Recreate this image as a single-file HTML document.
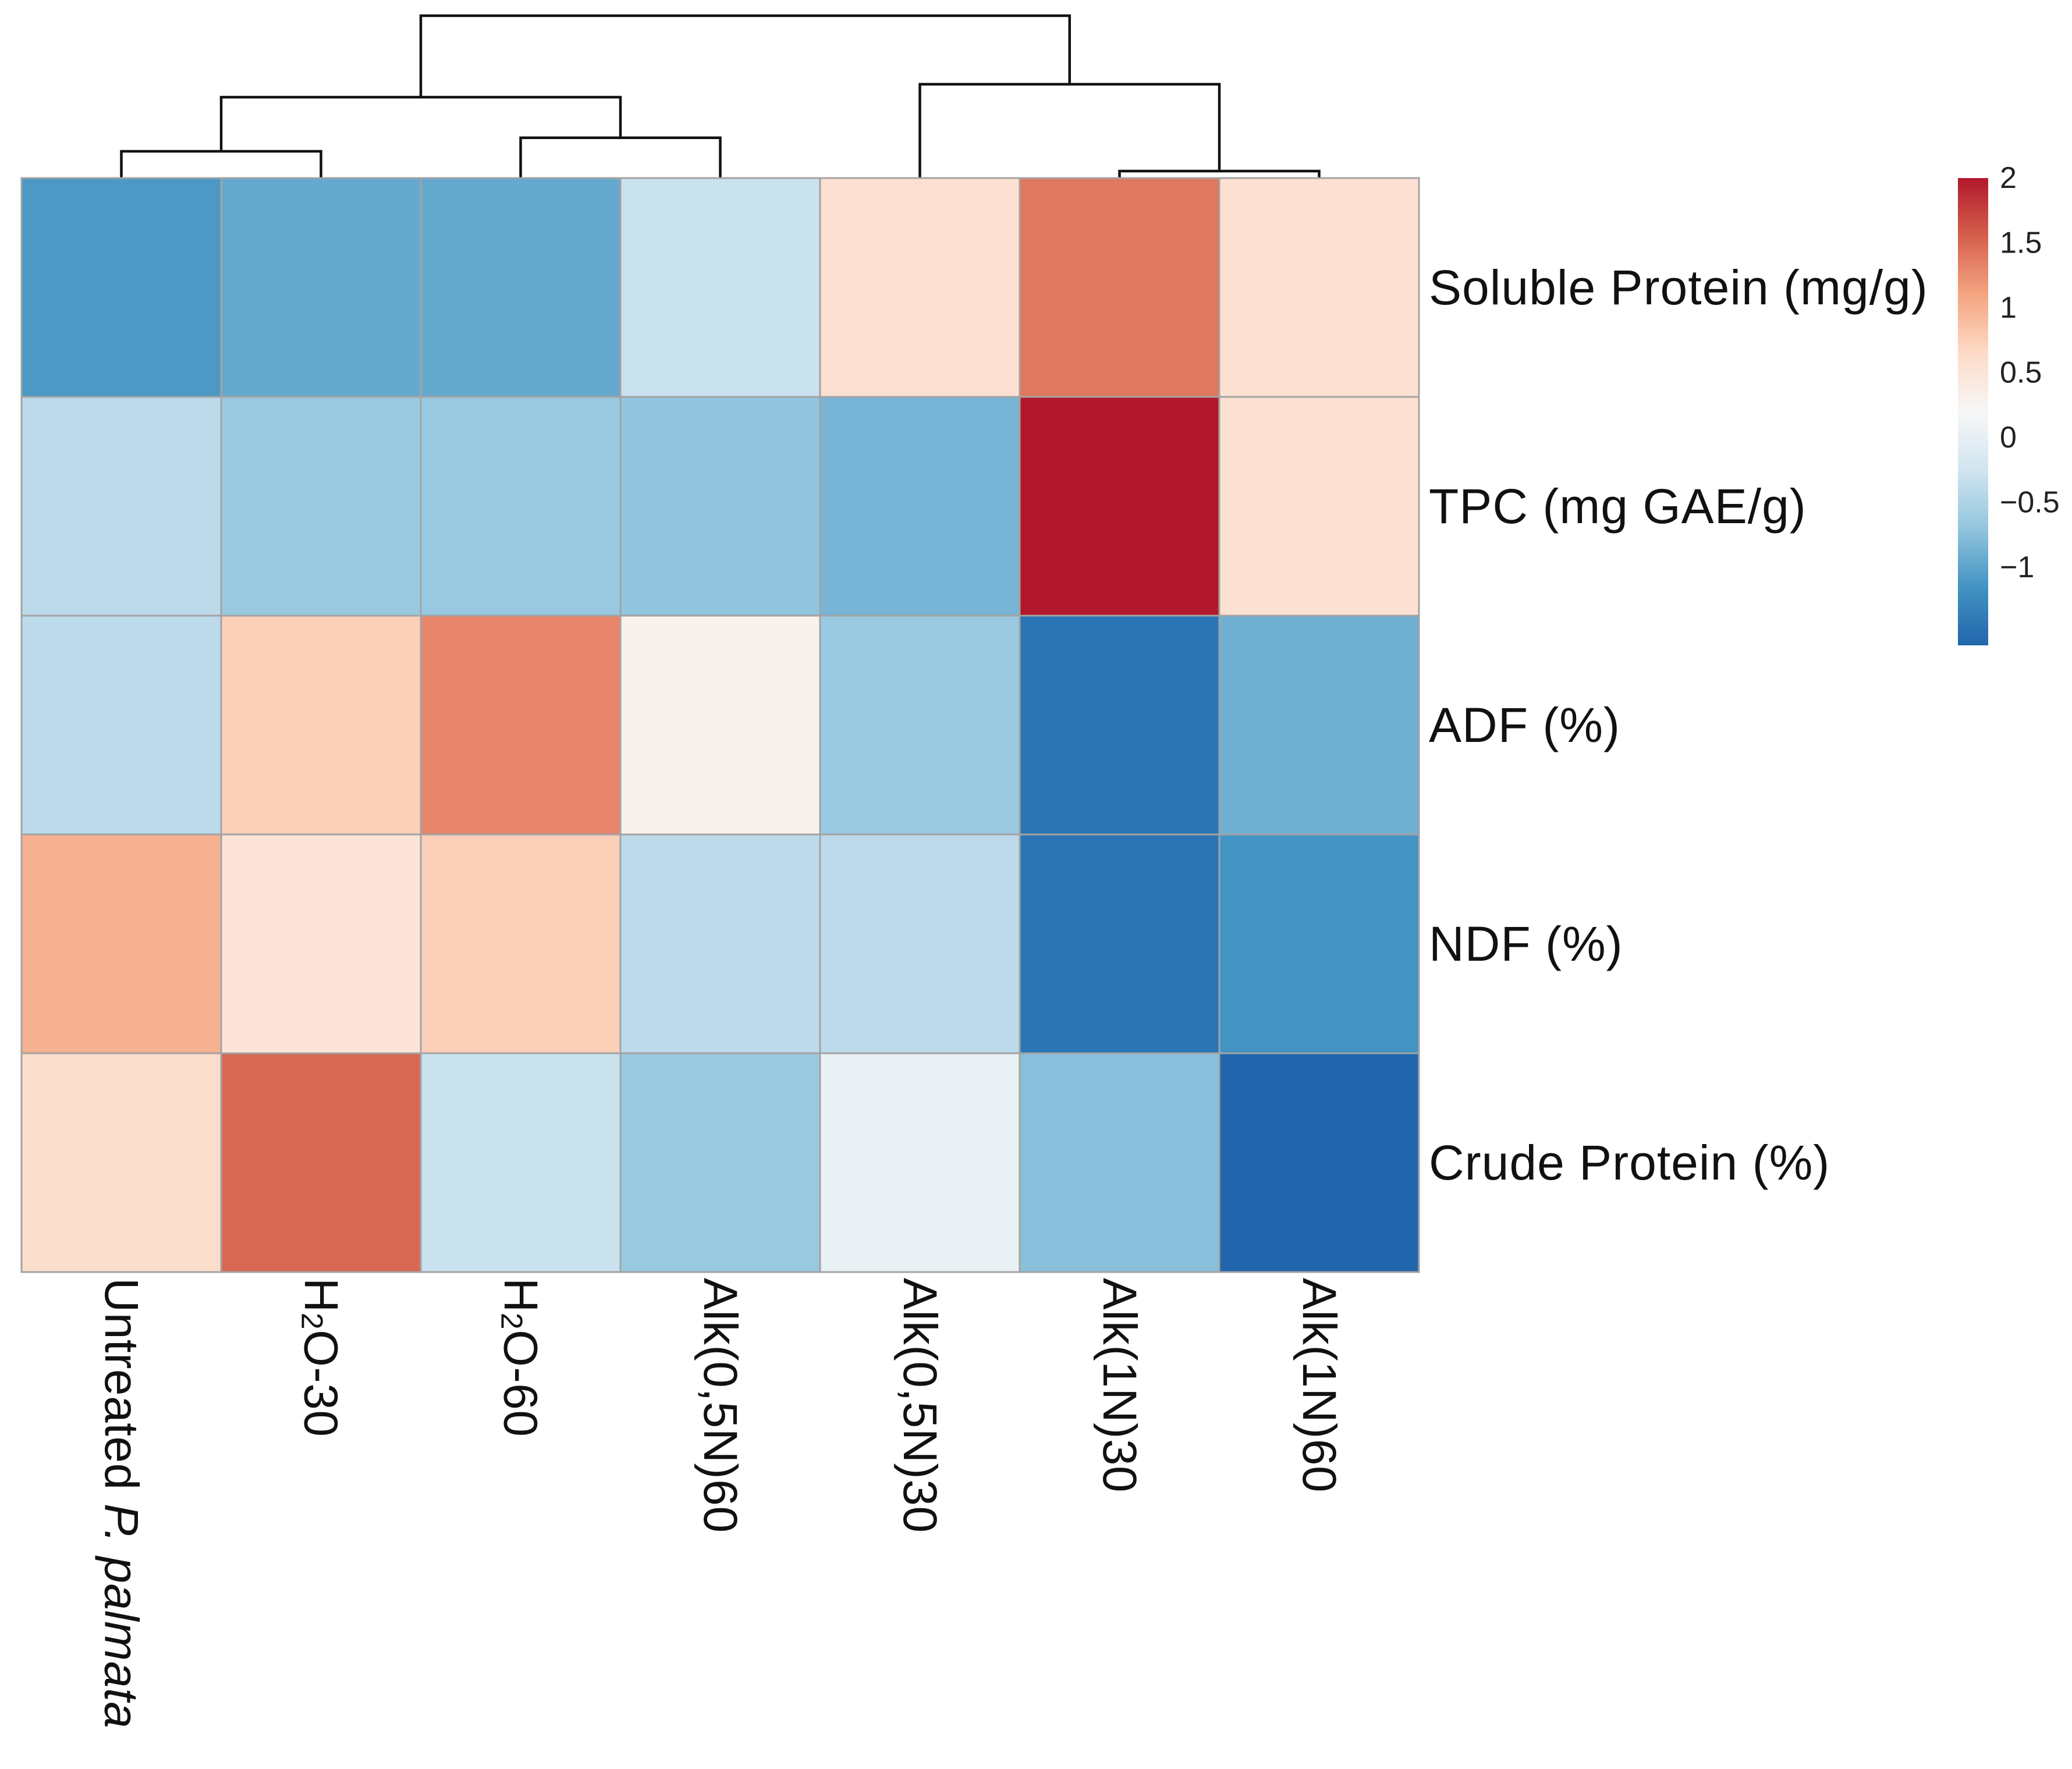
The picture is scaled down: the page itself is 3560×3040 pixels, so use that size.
<!DOCTYPE html>
<html><head><meta charset="utf-8"><style>
html,body{margin:0;padding:0;background:#fff;}
svg{display:block;font-family:"Liberation Sans","DejaVu Sans",sans-serif;}
</style></head><body>
<svg id="chart" width="3560" height="3040" viewBox="0 0 3560 3040" xmlns="http://www.w3.org/2000/svg">
<g id="dendro"></g>
<g id="cells"></g>
<g id="rowlabels"></g>
<g id="collabels"></g>
<g id="legend"></g>
</svg>
<script>
const columns = ["Untreated P. palmata","H2O-30","H2O-60","Alk(0,5N)60","Alk(0,5N)30","Alk(1N)30","Alk(1N)60"];
const rows = ["Soluble Protein (mg/g)","TPC (mg GAE/g)","ADF (%)","NDF (%)","Crude Protein (%)"];
const solubleProtein = [-1.1,-0.95,-0.95,-0.3,0.55,1.4,0.55];
const tpc = [-0.4,-0.65,-0.65,-0.7,-0.85,2.0,0.55];
const adf = [-0.4,0.75,1.3,0.3,-0.65,-1.45,-0.9];
const ndf = [1.0,0.5,0.75,-0.4,-0.4,-1.45,-1.15];
const crudeProtein = [0.6,1.5,-0.3,-0.65,0.05,-0.75,-1.6];
const legendTicks = [2,1.5,1,0.5,0,-0.5,-1];
const legendTickLabels = ["2","1.5","1","0.5","0","\u22120.5","\u22121"];
// dendrogram merges: [left, right, height]; leaves 0..6, nodes 7..
const merges = [[0,1,0.165],[5,6,0.043],[2,3,0.248],[7,9,0.498],[4,8,0.578],[10,11,1.0]];

const NS="http://www.w3.org/2000/svg";
function mk(tag,attrs,parent){const e=document.createElementNS(NS,tag);for(const k in attrs)e.setAttribute(k,attrs[k]);parent.appendChild(e);return e;}
const X0=37, Y0=306, CW=343, RH=376;
const colX=i=>X0+CW*i, colC=i=>X0+CW*(i+0.5), rowY=j=>Y0+RH*j, rowC=j=>Y0+RH*(j+0.5);
const VMIN=-1.6, VMAX=2.0;
const pal=["#2166ac","#4393c3","#92c5de","#d1e5f0","#f7f7f7","#fddbc7","#f4a582","#d6604d","#b2182b"];
function hex(h){return [1,3,5].map(i=>parseInt(h.substr(i,2),16));}
function color(v){let t=(v-VMIN)/(VMAX-VMIN);t=Math.max(0,Math.min(1,t));const p=t*(pal.length-1);const i=Math.min(pal.length-2,Math.floor(p));const f=p-i;const a=hex(pal[i]),b=hex(pal[i+1]);return "rgb("+a.map((x,k)=>Math.round(x+(b[k]-x)*f)).join(",")+")";}
const data=[solubleProtein,tpc,adf,ndf,crudeProtein];

const cells=document.getElementById('cells');
data.forEach((r,j)=>r.forEach((v,i)=>{
  const c=mk('rect',{x:colX(i),y:rowY(j),width:CW,height:RH,fill:color(v),stroke:"#a3a3a3","stroke-width":3},cells);
  
  
}));

const rl=document.getElementById('rowlabels');
rows.forEach((t,j)=>{
  const e=mk('text',{x:2455,y:rowC(j),"font-size":84,"letter-spacing":1,"dominant-baseline":"central",fill:"#111"},rl);
  e.textContent=t;
  
  
});

const cl=document.getElementById('collabels');
columns.forEach((t,i)=>{
  const e=mk('text',{transform:"translate("+colC(i)+",2196) rotate(90)","font-size":82,"letter-spacing":0.5,"dominant-baseline":"central",fill:"#111"},cl);
  
  
  if(t.startsWith("Untreated")){
    e.appendChild(document.createTextNode("Untreated "));
    const s=mk('tspan',{"font-style":"italic"},e);s.textContent="P. palmata";
  } else if(t.startsWith("H2O")){
    e.appendChild(document.createTextNode("H"));
    const s=mk('tspan',{"font-size":52,dy:16},e);s.textContent="2";
    const s2=mk('tspan',{dy:-16},e);s2.textContent=t.slice(2);
  } else e.textContent=t;
});

// dendrogram
const dg=document.getElementById('dendro');
const HTOP=27, HBASE=306;
const hy=h=>HBASE-(HBASE-HTOP)*h;
const nodes=columns.map((_,i)=>({x:colC(i),h:0}));
merges.forEach((m,k)=>{
  const a=nodes[m[0]],b=nodes[m[1]],y=hy(m[2]);
  const p=mk('path',{d:"M"+a.x+","+hy(a.h)+"V"+y+"H"+b.x+"V"+hy(b.h),fill:"none",stroke:"#111","stroke-width":4.5},dg);
  
  
  nodes.push({x:(a.x+b.x)/2,h:m[2]});
});

// legend
const lg=document.getElementById('legend');
const LX=3364, LW=52, LT=306, LB=1109;
const ly=v=>LT+(LB-LT)*(VMAX-v)/(VMAX-VMIN);
const defs=mk('defs',{},lg);
const grad=mk('linearGradient',{id:"lgrad",x1:0,y1:1,x2:0,y2:0},defs);
pal.forEach((c,i)=>mk('stop',{offset:i/(pal.length-1),"stop-color":c},grad));
const bar=mk('rect',{x:LX,y:LT,width:LW,height:LB-LT,fill:"url(#lgrad)"},lg);


legendTicks.forEach((v,i)=>{
  const t=mk('text',{x:3436,y:ly(v),"font-size":52,"dominant-baseline":"central",fill:"#222"},lg);
  t.textContent=legendTickLabels[i];
  
  
});
</script>
</body></html>
